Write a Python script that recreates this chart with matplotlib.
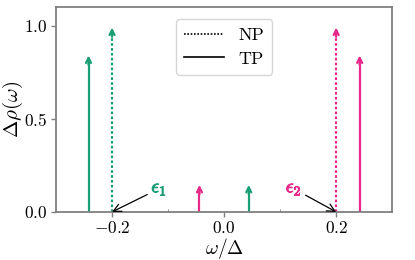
import matplotlib
matplotlib.use("Agg")
import matplotlib.pyplot as plt
import matplotlib.patheffects as pe
from matplotlib.lines import Line2D

plt.rcParams["font.family"] = "serif"
plt.rcParams["font.serif"] = ["cmr10"]
plt.rcParams["mathtext.fontset"] = "cm"
plt.rcParams["axes.formatter.use_mathtext"] = True

# peak positions / heights
green = "#1b9e77"
pink = "#e7298a"
np_pos = [-0.2, 0.2]
np_height = [0.99, 0.99]
np_color = [green, pink]
tp_pos = [-0.242, -0.044, 0.044, 0.242]
tp_height = [0.84, 0.145, 0.145, 0.84]
tp_color = [green, pink, green, pink]

fig, ax = plt.subplots(figsize=(4.15, 2.6), dpi=100)
fig.subplots_adjust(left=0.135, right=0.945, top=0.973, bottom=0.185)


def peak(x, h, c, ls):
    ax.vlines(x, 0, h - 0.02, colors=c, linestyles=ls, lw=1.6)
    ax.annotate("", xy=(x, h), xytext=(x, h - 0.05),
                arrowprops=dict(arrowstyle="->", color=c, lw=1.6,
                                mutation_scale=9, shrinkA=0, shrinkB=0))


for x, h, c in zip(np_pos, np_height, np_color):
    peak(x, h, c, (0, (1.2, 1)))
for x, h, c in zip(tp_pos, tp_height, tp_color):
    peak(x, h, c, "-")

bold = lambda c: [pe.withStroke(linewidth=0.7, foreground=c)]
ax.annotate(r"$\epsilon_1$", xy=(-0.2, 0), xytext=(-0.13, 0.105),
            color=green, fontsize=14, path_effects=bold(green),
            arrowprops=dict(arrowstyle="->", color="black", lw=0.9,
                            shrinkA=1, shrinkB=0))
ax.annotate(r"$\epsilon_2$", xy=(0.2, 0), xytext=(0.11, 0.105),
            color=pink, fontsize=14, path_effects=bold(pink),
            arrowprops=dict(arrowstyle="->", color="black", lw=0.9,
                            shrinkA=1, shrinkB=0))

ax.set_xlim(-0.3, 0.3)
ax.set_ylim(0, 1.1)
ax.set_xticks([-0.2, 0.0, 0.2])
ax.set_xticks([-0.1, 0.1], minor=True)
ax.set_yticks([0.0, 0.5, 1.0])
ax.tick_params(labelsize=12.5, color="#808080", length=3.5, width=1, pad=2.5)
ax.tick_params(which="minor", length=2, direction="in", color="#808080")
for s in ax.spines.values():
    s.set_color("#808080")
    s.set_linewidth(1.3)

ax.set_xlabel(r"$\omega/\Delta$", fontsize=14)
ax.set_ylabel(r"$\Delta\rho(\omega)$", fontsize=15)
ax.xaxis.set_label_coords(0.5, -0.12, transform=ax.transAxes)
ax.yaxis.set_label_coords(-0.128, 0.5, transform=ax.transAxes)
ax.xaxis.label.set_va("top")
ax.yaxis.label.set_va("center")

handles = [Line2D([], [], color="black", ls=(0, (1, 1)), lw=1.2),
           Line2D([], [], color="black", ls="-", lw=1.2)]
ax.legend(handles, ["NP", "TP"], loc="upper center", fontsize=13,
          handlelength=2.2, borderpad=0.45, labelspacing=0.45,
          bbox_to_anchor=(0.5, 0.985))

fig.savefig("out.png", dpi=100)
